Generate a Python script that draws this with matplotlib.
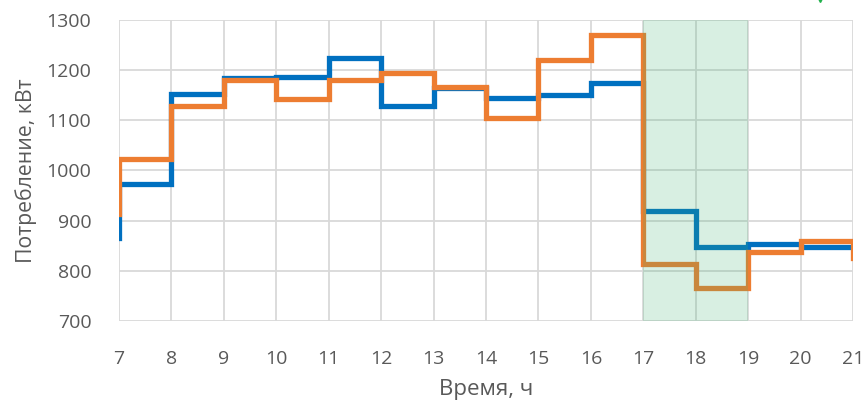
import matplotlib.pyplot as plt

# hourly consumption, kW (first value = level before 7:00, last = level at 21:00)
hours = [7, 7, 8, 9, 10, 11, 12, 13, 14, 15, 16, 17, 18, 19, 20, 21]
plan = [865, 974, 1152, 1184, 1186, 1224, 1128, 1164, 1144, 1150, 1174, 920, 847, 853, 847, 847]
fact = [914, 1022, 1129, 1181, 1142, 1180, 1194, 1166, 1104, 1220, 1271, 813, 766, 837, 860, 826]
peak_zone = (17, 19)

plt.rcParams['font.family'] = ['Open Sans', 'DejaVu Sans']

fig = plt.figure(figsize=(8.67, 4.03), dpi=100)
ax = fig.add_axes([0.1373, 0.2035, 0.8466, 0.7469])

ax.plot(hours, plan, drawstyle='steps-post', color='#0070C0', lw=3.8,
        solid_joinstyle='miter', zorder=3)
ax.plot(hours, fact, drawstyle='steps-post', color='#ED7D31', lw=3.8,
        solid_joinstyle='miter', zorder=4)

# peak hours highlight, drawn over the lines
ax.axvspan(*peak_zone, color='#3CB371', alpha=0.2, lw=0, zorder=5)

ax.set_xlim(7, 21)
ax.set_ylim(700, 1300)
ax.set_xticks(range(7, 22))
ax.set_yticks(range(700, 1301, 100))
ax.grid(True, color='#D9D9D9', lw=1.3)
ax.set_axisbelow(True)
for s in ax.spines.values():
    s.set_visible(False)
ax.tick_params(length=0, labelsize=14, labelcolor='#595959')
ax.tick_params(axis='x', pad=21)
ax.tick_params(axis='y', pad=20)

ax.set_xlabel('Время, ч', fontsize=16, color='#595959', labelpad=8)
ax.set_ylabel('Потребление, кВт', fontsize=15.3, color='#595959', labelpad=7)

# small marker sticking out above the plot
ax.plot([20.37], [1348], marker='v', color='#22B14C', ms=9, clip_on=False, zorder=6)

fig.savefig('out.png', dpi=100)
